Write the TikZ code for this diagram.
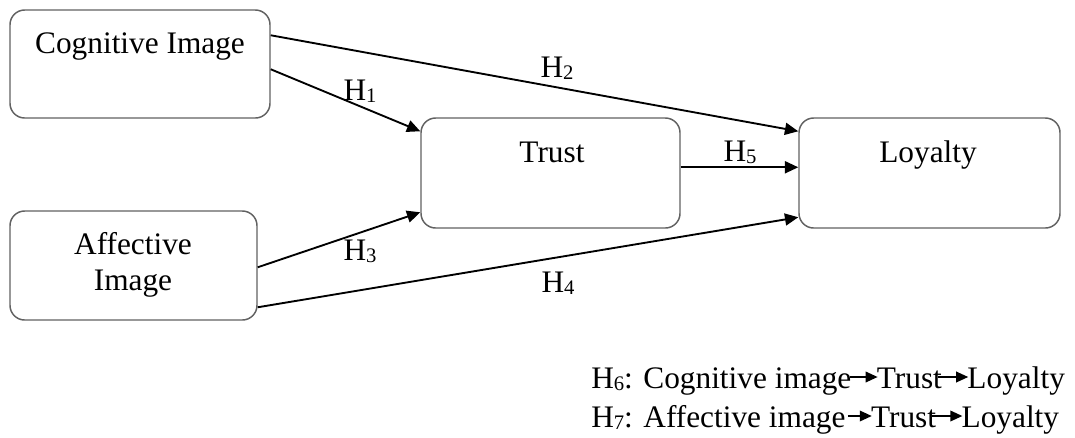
\documentclass[tikz,border=0pt]{standalone}
\usepackage{fontspec}
\setmainfont{Liberation Serif}
\usetikzlibrary{arrows.meta,calc}
% hypothesis index, set slightly lowered
\newcommand{\hsub}[1]{\raisebox{-2pt}{\fontsize{15.5}{18}\selectfont #1}}

\begin{document}
\begin{tikzpicture}[x=0.75pt,y=-0.75pt,
  box/.style={draw=black!62,line width=1.1pt,rounded corners=11pt,fill=white},
  txt/.style={inner sep=0pt,anchor=base,font=\fontsize{23.5}{28}\selectfont},
  lbl/.style={inner sep=0pt,anchor=base,font=\fontsize{23.5}{28}\selectfont},
  link/.style={line width=1.4pt,-{Triangle[length=10pt,width=9pt]}},
  mini/.style={line width=1.1pt,-{Triangle[length=9pt,width=8pt]}}]

\useasboundingbox (0,0) rectangle (1075,437);

% construct boxes
\node[box,minimum width=195pt,minimum height=81pt] (cog) at (140,64) {};
\node[box,minimum width=185.25pt,minimum height=81.75pt] (aff) at (133.5,265.5) {};
\node[box,minimum width=194.25pt,minimum height=82.5pt] (trust) at (550.5,173) {};
\node[box,minimum width=195.75pt,minimum height=82.5pt] (loy) at (929.5,173) {};

% box captions
\node[txt] (cogtxt) at (140,53) {Cognitive Image};
\node[txt] (afftxt1) at (133,254) {Affective};
\node[txt] (afftxt2) at (133,290) {Image};
\node[txt] (trusttxt) at (552,162) {Trust};
\node[txt] (loytxt) at (928,162) {Loyalty};

% hypothesised paths
\draw[link] ($(cog.north east)+(0,26)$) -- ($(loy.north west)+(0,14)$);
\draw[link] ($(cog.north east)+(0,60)$) -- ($(trust.north west)+(0,14)$);
\draw[link] ($(trust.north east)+(0,50)$) -- ($(loy.north west)+(0,50)$);
\draw[link] ($(aff.north east)+(0,57)$) -- ($(trust.north west)+(0,95)$);
\draw[link] ($(aff.north east)+(0,97)$) -- ($(loy.north west)+(0,100)$);

% path labels
\node[lbl] (h1) at (360,100) {H\hsub{1}};
\node[lbl] (h2) at (557,77) {H\hsub{2}};
\node[lbl] (h3) at (360,260) {H\hsub{3}};
\node[lbl] (h4) at (558,292) {H\hsub{4}};
\node[lbl] (h5) at (740,161) {H\hsub{5}};

% mediation hypotheses
\node[txt,anchor=base west] (m6a) at (591,388) {H\hsub{6}: Cognitive image};
\node[txt,anchor=base west] (m6b) at ($(m6a.base east)+(25,0)$) {Trust};
\node[txt,anchor=base west] (m6c) at ($(m6b.base east)+(25,0)$) {Loyalty};
\draw[mini] ($(m6a.base east)+(-2,-11)$) -- ($(m6b.base west)+(1,-11)$);
\draw[mini] ($(m6b.base east)+(-4,-11)$) -- ($(m6c.base west)+(1,-11)$);

\node[txt,anchor=base west] (m7a) at (591,427) {H\hsub{7}: Affective image};
\node[txt,anchor=base west] (m7b) at ($(m7a.base east)+(25,0)$) {Trust};
\node[txt,anchor=base west] (m7c) at ($(m7b.base east)+(25,0)$) {Loyalty};
\draw[mini] ($(m7a.base east)+(2,-11)$) -- ($(m7b.base west)+(1,-11)$);
\draw[mini] ($(m7b.base east)+(-4,-11)$) -- ($(m7c.base west)+(1,-11)$);

\end{tikzpicture}
\end{document}
